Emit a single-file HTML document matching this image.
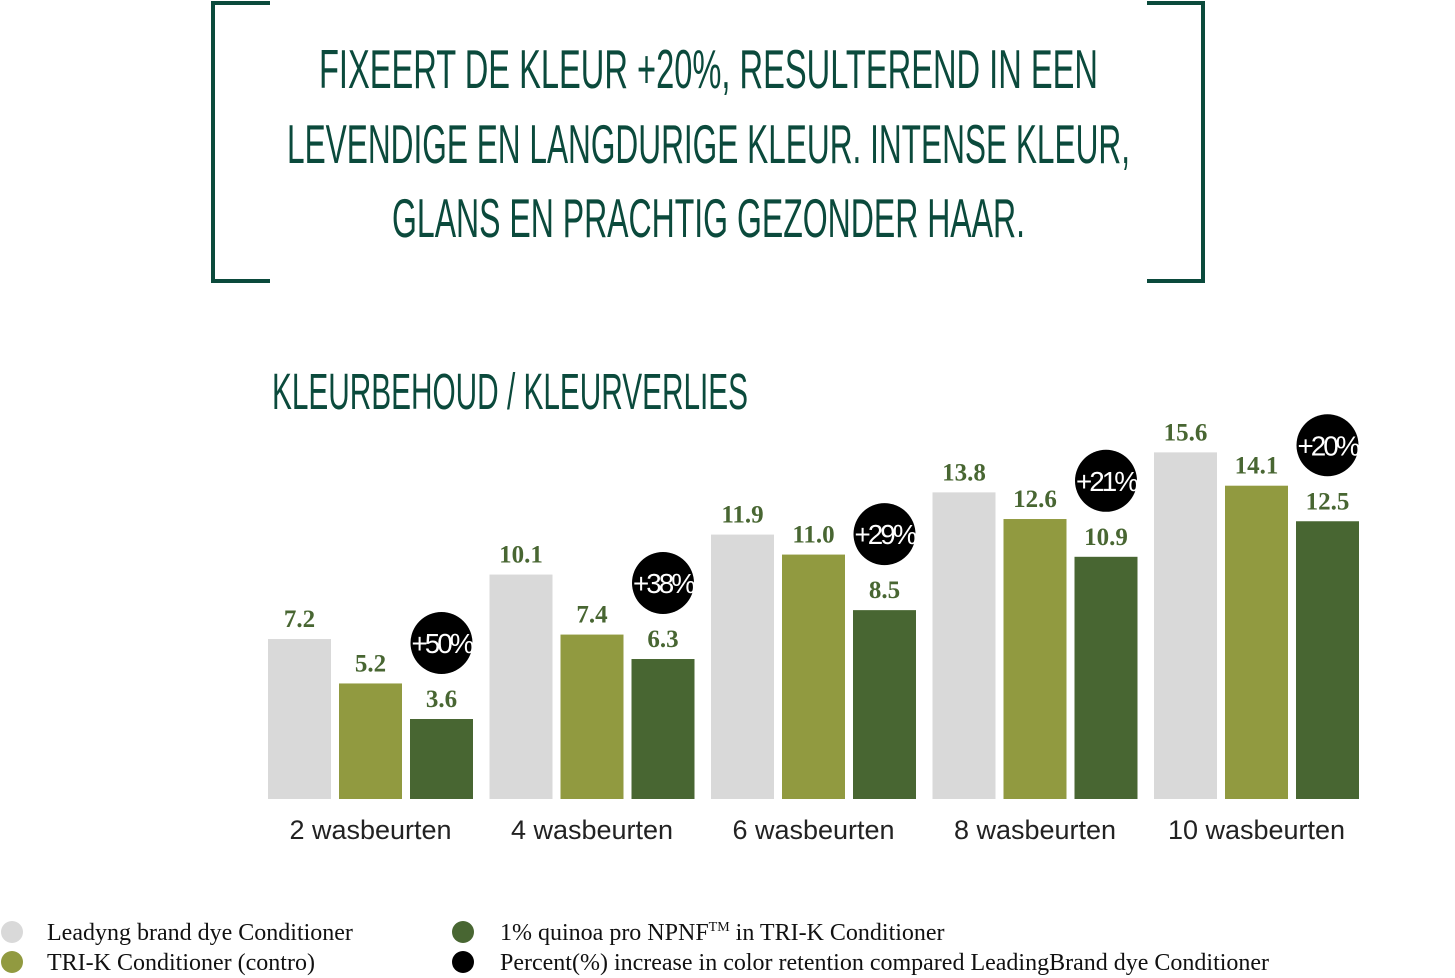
<!DOCTYPE html>
<html><head><meta charset="utf-8"><style>
html,body{margin:0;padding:0;background:#fff;}
svg{display:block;}
.t{font-family:"Liberation Sans",sans-serif;fill:#0b4a3c;}
</style></head><body>
<svg id="c" width="1455" height="978" viewBox="0 0 1455 978" xmlns="http://www.w3.org/2000/svg">
<g fill="none" stroke="#0b4a3c" stroke-width="4">
<path d="M270 3 H213 V281 H270"/>
</g>
<g fill="none" stroke="#0b4a3c" stroke-width="4">
<path d="M1147 3 H1203 V281 H1147"/>
</g>
<text class="t" x="319" y="88" font-size="55" textLength="779" lengthAdjust="spacingAndGlyphs">FIXEERT DE KLEUR +20%, RESULTEREND IN EEN</text>
<text class="t" x="287" y="163" font-size="55" textLength="843" lengthAdjust="spacingAndGlyphs">LEVENDIGE EN LANGDURIGE KLEUR. INTENSE KLEUR,</text>
<text class="t" x="392" y="237" font-size="55" textLength="633" lengthAdjust="spacingAndGlyphs">GLANS EN PRACHTIG GEZONDER HAAR.</text>
<text class="t" x="272" y="409" font-size="51" textLength="476" lengthAdjust="spacingAndGlyphs">KLEURBEHOUD / KLEURVERLIES</text>
<g id="bars"></g>
<g font-family="Liberation Serif, serif" font-size="24" fill="#111">
<circle cx="12" cy="932" r="11" fill="#d9d9d9"/>
<text x="47" y="940">Leadyng brand dye Conditioner</text>
<circle cx="12" cy="962" r="11" fill="#919a40"/>
<text x="47" y="970">TRI-K Conditioner (contro)</text>
<circle cx="463" cy="932" r="11" fill="#486632"/>
<text x="500" y="940">1% quinoa pro NPNF<tspan font-size="14" dy="-9">TM</tspan><tspan dy="9"> in TRI-K Conditioner</tspan></text>
<circle cx="463" cy="962" r="11" fill="#000"/>
<text x="500" y="970">Percent(%) increase in color retention compared LeadingBrand dye Conditioner</text>
</g>
</svg>
<script>
const categories=["2 wasbeurten","4 wasbeurten","6 wasbeurten","8 wasbeurten","10 wasbeurten"];
const leading=[7.2,10.1,11.9,13.8,15.6];
const trik=[5.2,7.4,11.0,12.6,14.1];
const quinoa=[3.6,6.3,8.5,10.9,12.5];
const increase=["+50%","+38%","+29%","+21%","+20%"];
const NS="http://www.w3.org/2000/svg";
const g=document.getElementById('bars');
const base=799, scale=22.22, x0=268, pitch=221.5, bw=63, gap=8;
const y=v=>base-v*scale;
const colors=["#d9d9d9","#919a40","#486632"];
const series=[leading,trik,quinoa];
const names=["leading","trik","quinoa"];
function mk(tag,attrs){const e=document.createElementNS(NS,tag);for(const k in attrs)e.setAttribute(k,attrs[k]);g.appendChild(e);return e;}
categories.forEach((cat,i)=>{
  const gx=x0+i*pitch;
  series.forEach((s,j)=>{
    const bx=gx+j*(bw+gap);
    const r=mk('rect',{x:bx,y:y(s[i]),width:bw,height:s[i]*scale,fill:colors[j]});
    
    
    const t=mk('text',{x:bx+bw/2,y:y(s[i])-12,'text-anchor':'middle','font-family':'Liberation Serif, serif','font-weight':'bold','font-size':'25',fill:'#486632'});
    t.textContent=s[i].toFixed(1);
    
    
  });
  const cx=gx+2*(bw+gap)+bw/2, cy=y(quinoa[i])-76;
  const c=mk('circle',{cx:cx,cy:cy,r:31,fill:'#000'});
  
  
  const ct=mk('text',{x:cx,y:cy+10,'text-anchor':'middle','font-family':'Liberation Sans, sans-serif','font-size':'28','letter-spacing':'-3',fill:'#fff',textLength:'60',lengthAdjust:'spacingAndGlyphs'});
  ct.textContent=increase[i];
  
  
  const lt=mk('text',{x:gx+(3*bw+2*gap)/2,y:839,'text-anchor':'middle','font-family':'Liberation Sans, sans-serif','font-size':'27',fill:'#222'});
  lt.textContent=cat;
  
  
});
</script>
</body></html>
